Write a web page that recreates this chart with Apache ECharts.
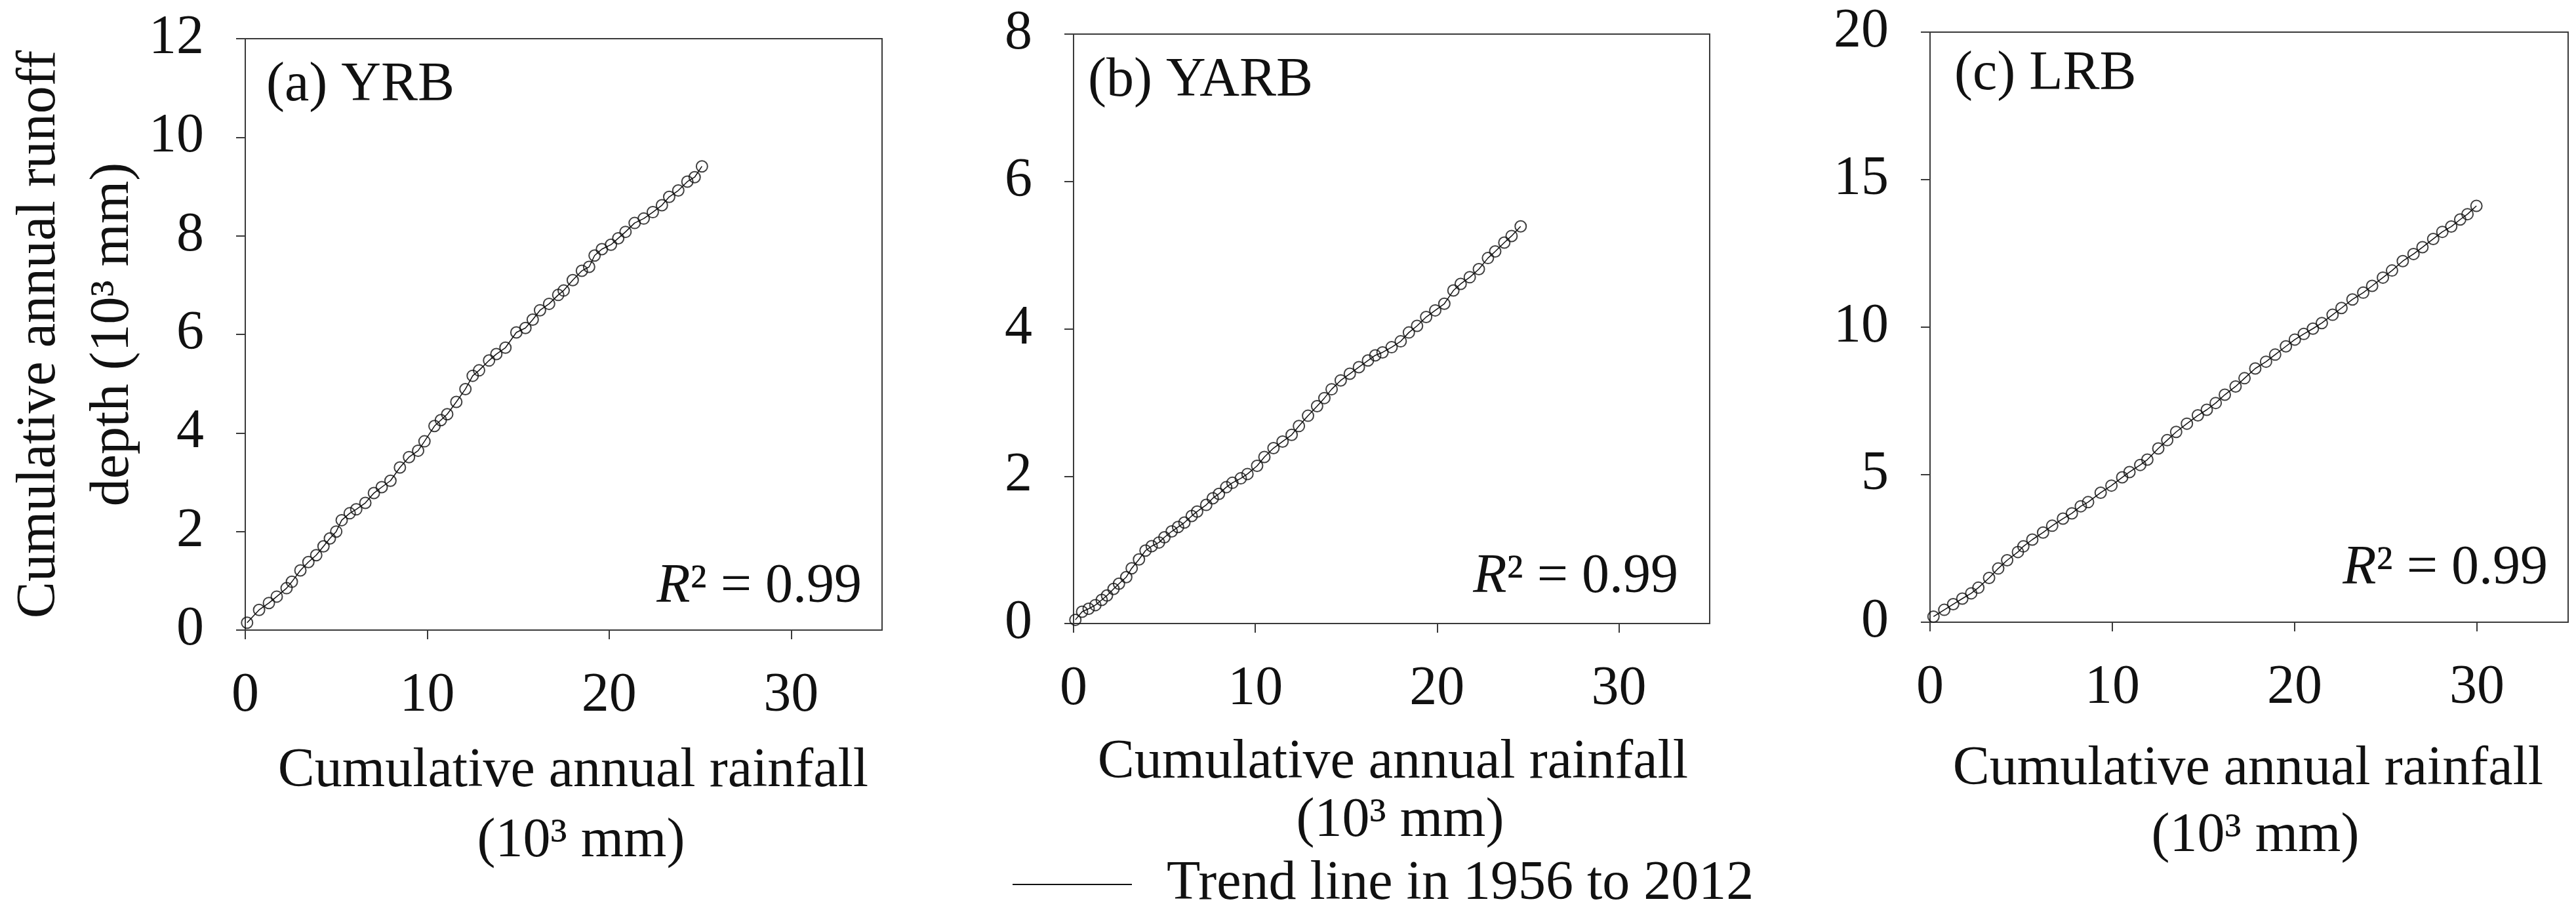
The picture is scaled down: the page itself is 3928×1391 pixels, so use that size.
<!DOCTYPE html>
<html>
<head>
<meta charset="utf-8">
<script src="https://cdn.jsdelivr.net/npm/echarts@6/dist/echarts.min.js"></script>
<style>
  html, body { margin: 0; padding: 0; background: #fff; }
  #chart-container { width: 3928px; height: 1391px; }
</style>
</head>
<body>
<div id="chart-container"></div>
<script>
// (a) YRB  cumulative rainfall / runoff, 10^3 mm
var rainA = [0.1, 0.76, 1.3, 1.73, 2.27, 2.56, 3.03, 3.47, 3.9, 4.3, 4.65, 5.0, 5.3, 5.74, 6.1, 6.6, 7.07, 7.5, 7.98, 8.5,
  9.0, 9.5, 9.85, 10.4, 10.75, 11.1, 11.6, 12.1, 12.5, 12.85, 13.4, 13.8, 14.3, 14.9, 15.4, 15.8, 16.2, 16.7, 17.2, 17.5,
  18.0, 18.5, 18.9, 19.2, 19.6, 20.1, 20.5, 20.9, 21.4, 21.9, 22.4, 22.9, 23.3, 23.8, 24.3, 24.7, 25.1];
var runoffA = [0.15, 0.41, 0.55, 0.68, 0.85, 0.98, 1.21, 1.38, 1.52, 1.70, 1.86, 2.0, 2.23, 2.37, 2.45, 2.58, 2.78, 2.9, 3.03, 3.30,
  3.51, 3.64, 3.83, 4.14, 4.26, 4.38, 4.63, 4.89, 5.16, 5.27, 5.47, 5.6, 5.73, 6.04, 6.13, 6.3, 6.49, 6.62, 6.8, 6.89,
  7.1, 7.29, 7.37, 7.6, 7.73, 7.82, 7.95, 8.08, 8.26, 8.35, 8.48, 8.62, 8.79, 8.92, 9.1, 9.19, 9.41];

// (b) YARB
var rainB = [0.1, 0.47, 0.83, 1.2, 1.55, 1.84, 2.2, 2.5, 2.9, 3.2, 3.6, 3.96, 4.3, 4.7, 5.0, 5.4, 5.75, 6.1, 6.5, 6.8,
  7.3, 7.66, 8.0, 8.4, 8.74, 9.2, 9.57, 10.1, 10.5, 11.0, 11.5, 12.0, 12.4, 12.9, 13.4, 13.8, 14.2, 14.7, 15.2, 15.7,
  16.2, 16.6, 17.0, 17.5, 18.0, 18.45, 18.9, 19.4, 19.9, 20.4, 20.9, 21.3, 21.8, 22.3, 22.8, 23.2, 23.7, 24.1, 24.6];
var runoffB = [0.05, 0.16, 0.2, 0.25, 0.32, 0.38, 0.47, 0.54, 0.63, 0.75, 0.87, 0.99, 1.05, 1.1, 1.17, 1.25, 1.31, 1.37, 1.46, 1.52,
  1.61, 1.70, 1.76, 1.85, 1.91, 1.97, 2.03, 2.14, 2.26, 2.38, 2.47, 2.56, 2.68, 2.82, 2.95, 3.06, 3.18, 3.30, 3.39, 3.48,
  3.57, 3.64, 3.68, 3.75, 3.83, 3.95, 4.04, 4.16, 4.25, 4.34, 4.52, 4.61, 4.70, 4.81, 4.96, 5.05, 5.17, 5.26, 5.39];

// (c) LRB
var rainC = [0.19, 0.78, 1.27, 1.77, 2.26, 2.65, 3.24, 3.74, 4.23, 4.82, 5.12, 5.61, 6.2, 6.7, 7.29, 7.78, 8.27, 8.67, 9.36, 9.95,
  10.54, 10.94, 11.53, 11.92, 12.52, 13.01, 13.5, 14.09, 14.69, 15.18, 15.67, 16.17, 16.76, 17.25, 17.84, 18.43, 18.93, 19.52, 20.01, 20.5,
  21.0, 21.49, 22.08, 22.57, 23.17, 23.76, 24.25, 24.84, 25.34, 25.93, 26.52, 27.01, 27.6, 28.1, 28.59, 29.08, 29.48, 29.97];
var runoffC = [0.19, 0.42, 0.61, 0.80, 0.98, 1.17, 1.50, 1.82, 2.10, 2.38, 2.57, 2.80, 3.04, 3.27, 3.51, 3.69, 3.93, 4.07, 4.39, 4.63,
  4.91, 5.09, 5.33, 5.51, 5.89, 6.17, 6.45, 6.73, 7.01, 7.20, 7.43, 7.71, 7.99, 8.27, 8.60, 8.83, 9.07, 9.35, 9.58, 9.77,
  9.95, 10.14, 10.42, 10.65, 10.94, 11.17, 11.40, 11.68, 11.92, 12.24, 12.48, 12.71, 12.99, 13.23, 13.41, 13.65, 13.83, 14.11];

var panelLabels = ['(a) YRB', '(b) YARB', '(c) LRB'];
var yMax = [12, 8, 20];
var yStep = [2, 2, 5];
var xTicks = [0, 10, 20, 30];
var r2Text = 'R';
var r2Value = '² = 0.99';
var xTitle1 = 'Cumulative annual rainfall';
var xTitle2 = '(10³ mm)';
var yTitle = 'Cumulative annual runoff\ndepth (10³ mm)';
var trendName = 'Trend line in 1956 to 2012';

var FONT = 'Liberation Serif';
var INK = '#111';
var AXIS = '#3a3a3a';

function pairs(xs, ys) {
  return xs.map(function (x, i) { return [x, ys[i]]; });
}
var sets = [pairs(rainA, runoffA), pairs(rainB, runoffB), pairs(rainC, runoffC)];

var grids = [
  { left: 374, top: 59, width: 971, height: 902 },
  { left: 1637, top: 52, width: 970, height: 899 },
  { left: 2943, top: 49, width: 973, height: 900 }
];

var dom = document.getElementById('chart-container');
var myChart = echarts.init(dom, null, { renderer: 'canvas' });

var xAxes = [], yAxes = [], series = [];
grids.forEach(function (g, i) {
  g.show = true;
  g.borderColor = AXIS;
  g.borderWidth = 2;
  g.backgroundColor = 'transparent';
  xAxes.push({
    gridIndex: i, type: 'value', min: 0, max: 35,
    splitLine: { show: false },
    axisLine: { show: true, onZero: false, lineStyle: { color: AXIS, width: 2 } },
    axisTick: { show: true, length: 14, customValues: xTicks, lineStyle: { color: AXIS, width: 2 } },
    axisLabel: { customValues: xTicks, margin: 59, fontSize: 84, fontFamily: FONT, color: INK }
  });
  yAxes.push({
    gridIndex: i, type: 'value', min: 0, max: yMax[i], interval: yStep[i],
    splitLine: { show: false },
    axisLine: { show: true, onZero: false, lineStyle: { color: AXIS, width: 2 } },
    axisTick: { show: true, length: 14, lineStyle: { color: AXIS, width: 2 } },
    axisLabel: { margin: 63, fontSize: 84, fontFamily: FONT, color: INK }
  });
  series.push({
    name: trendName, type: 'line', xAxisIndex: i, yAxisIndex: i,
    data: sets[i], symbol: 'none', z: 2,
    itemStyle: { color: INK },
    lineStyle: { color: INK, width: 1.5 }
  });
  series.push({
    name: 'points' + i, type: 'scatter', xAxisIndex: i, yAxisIndex: i,
    data: sets[i], symbol: 'circle', symbolSize: 17, z: 3,
    itemStyle: { color: 'rgba(0,0,0,0)', borderColor: INK, borderWidth: 2 }
  });
});

// text placements (centre / middle of each line)
var labelPos = [[406, 131], [1659, 124], [2980, 114]];
var r2Pos = [[1314, 896], [2559, 881], [3885, 868]];
var xt1Pos = [[874, 1177], [2124, 1164], [3428, 1174]];
var xt2Pos = [[886, 1284], [2135, 1253], [3439, 1276]];

var graphics = [];
for (var i = 0; i < 3; i++) {
  graphics.push({
    type: 'text', x: labelPos[i][0], y: labelPos[i][1],
    style: { text: panelLabels[i], fontSize: 84, fontFamily: FONT, fill: INK, align: 'left', verticalAlign: 'middle' }
  });
  graphics.push({
    type: 'text', x: r2Pos[i][0], y: r2Pos[i][1],
    style: {
      text: '{i|' + r2Text + '}{n|' + r2Value + '}',
      rich: {
        i: { fontSize: 84, fontFamily: FONT, fontStyle: 'italic', fill: INK },
        n: { fontSize: 84, fontFamily: FONT, fill: INK }
      },
      align: 'right', verticalAlign: 'middle'
    }
  });
  graphics.push({
    type: 'text', x: xt1Pos[i][0], y: xt1Pos[i][1],
    style: { text: xTitle1, fontSize: 84, fontFamily: FONT, fill: INK, align: 'center', verticalAlign: 'middle' }
  });
  graphics.push({
    type: 'text', x: xt2Pos[i][0], y: xt2Pos[i][1],
    style: { text: xTitle2, fontSize: 84, fontFamily: FONT, fill: INK, align: 'center', verticalAlign: 'middle' }
  });
}
graphics.push({
  type: 'text', x: 117, y: 510, rotation: Math.PI / 2,
  style: { text: yTitle, fontSize: 84, fontFamily: FONT, lineHeight: 112, fill: INK, align: 'center', verticalAlign: 'middle' }
});

myChart.setOption({
  backgroundColor: '#fff',
  animation: false,
  grid: grids,
  xAxis: xAxes,
  yAxis: yAxes,
  legend: {
    data: [{ name: trendName, icon: 'rect' }],
    left: 1539, top: 1302,
    itemWidth: 182, itemHeight: 2,
    selectedMode: false,
    textStyle: { fontSize: 84, fontFamily: FONT, color: INK, padding: [0, 0, 0, 48] }
  },
  graphic: graphics,
  series: series
});

window.addEventListener('resize', myChart.resize);
</script>
</body>
</html>
